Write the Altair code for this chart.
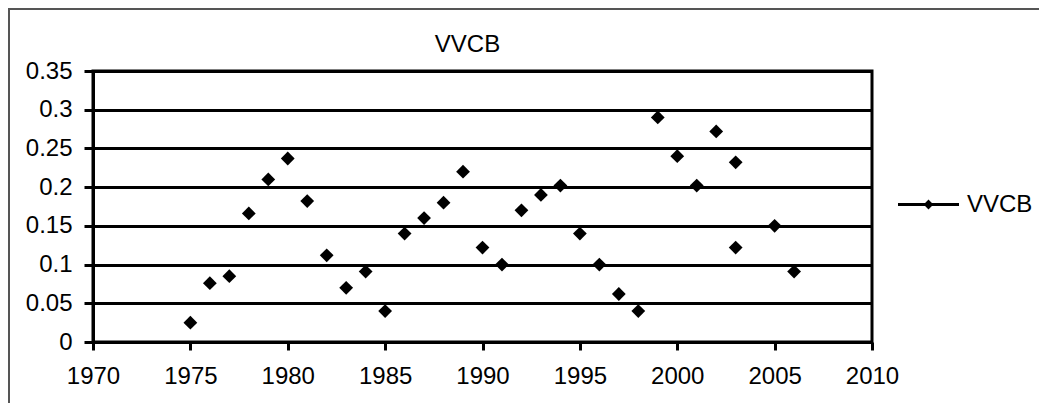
import altair as alt
import pandas as pd

years = [1975, 1976, 1977, 1978, 1979, 1980, 1981, 1982, 1983, 1984, 1985,
         1986, 1987, 1988, 1989, 1990, 1991, 1992, 1993, 1994, 1995, 1996,
         1997, 1998, 1999, 2000, 2001, 2002, 2003, 2003, 2005, 2006]
values = [0.025, 0.076, 0.085, 0.166, 0.21, 0.237, 0.182, 0.112, 0.07, 0.091, 0.04,
          0.14, 0.16, 0.18, 0.22, 0.122, 0.1, 0.17, 0.19, 0.202, 0.14, 0.1,
          0.062, 0.04, 0.29, 0.24, 0.202, 0.272, 0.232, 0.122, 0.15, 0.091]
series_name = "VVCB"
x_ticks = [1970, 1975, 1980, 1985, 1990, 1995, 2000, 2005, 2010]
y_ticks = [0, 0.05, 0.1, 0.15, 0.2, 0.25, 0.3, 0.35]

df = pd.DataFrame({"year": years, "value": values, "series": [series_name] * len(years)})

FONT = "Liberation Sans"
FS = 24
LEGEND_PATH = "M-1,-0.05L1,-0.05L1,0.05L-1,0.05Z M-0.16,0L0,-0.16L0.16,0L0,0.16Z"

points = alt.Chart(df).mark_point(shape="diamond", filled=True, size=190, opacity=1).encode(
    x=alt.X("year:Q",
            scale=alt.Scale(domain=[1970, 2010], nice=False, zero=False),
            axis=alt.Axis(values=x_ticks, format="d", title=None, grid=False,
                          tickSize=8, labelPadding=14, labelFlush=False)),
    y=alt.Y("value:Q",
            scale=alt.Scale(domain=[0, 0.35], nice=False),
            axis=alt.Axis(values=y_ticks, format="~g", title=None, grid=True,
                          tickSize=9, labelPadding=12, labelFlush=False)),
    color=alt.Color("series:N", scale=alt.Scale(range=["black"]),
                    legend=alt.Legend(title=None, orient="none", legendX=805, legendY=103,
                                      symbolType=LEGEND_PATH, symbolSize=3721,
                                      symbolStrokeWidth=0, labelFontSize=FS,
                                      labelFont=FONT, labelColor="black",
                                      labelOffset=8, padding=0)),
)

frame_left = alt.Chart(alt.Data(values=[{}])).mark_rule(color="#555555", strokeWidth=2).encode(
    x=alt.value(-84), y=alt.value(-62), y2=alt.value(340)
)
frame_top = alt.Chart(alt.Data(values=[{}])).mark_rule(color="#555555", strokeWidth=2).encode(
    x=alt.value(-85), x2=alt.value(960), y=alt.value(-62)
)

chart = alt.layer(frame_left, frame_top, points).properties(
    width=779,
    height=271,
    autosize=alt.AutoSizeParams(type="none"),
    padding={"left": 85, "top": 63, "right": 167, "bottom": 61},
    title=alt.TitleParams("VVCB", fontSize=FS, font=FONT, fontWeight="normal",
                          color="black", anchor="middle", dx=-15, offset=-49),
).configure_view(
    stroke="black", strokeWidth=3
).configure_axis(
    domainColor="black", domainWidth=3, tickColor="black", tickWidth=3,
    gridColor="black", gridWidth=3, gridOpacity=1,
    labelFont=FONT, labelFontSize=FS, labelColor="black",
)

chart.save("out.html", embed_options={"renderer": "svg", "actions": False})
